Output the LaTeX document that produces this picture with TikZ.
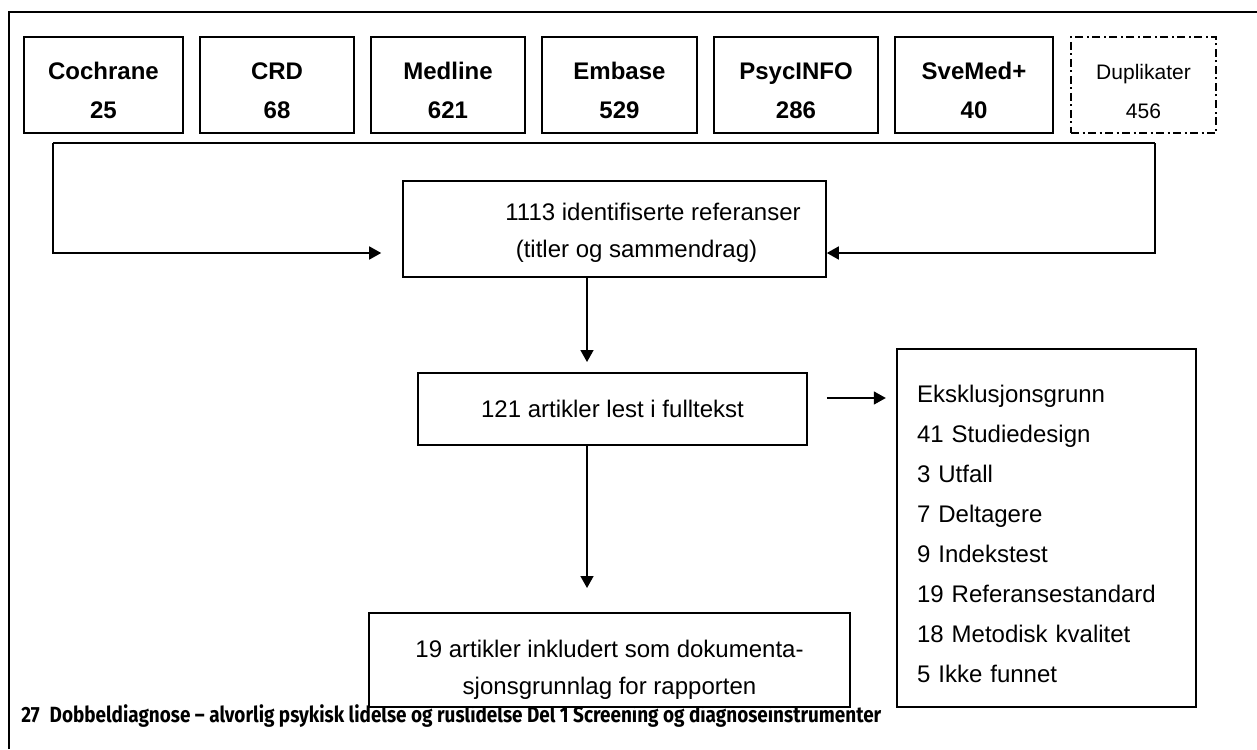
\documentclass[tikz,border=0pt]{standalone}
\usepackage{fontspec}
\setmainfont{Liberation Sans}
\newfontfamily\capfont[FakeStretch=0.86]{Fira Sans}
\usetikzlibrary{arrows.meta}

% database box text: name over count
\newcommand{\db}[2]{\rule{0pt}{14.5pt}#1\\#2}

\tikzset{
  box/.style={draw, line width=0.8pt, fill=white},
  srcbox/.style={box, minimum height=48pt, align=center,
    font=\fontsize{12}{19.5}\selectfont\bfseries},
  dupbox/.style={draw, line width=0.55pt,
    dash pattern=on 4pt off 1.75pt on 1pt off 1.75pt,
    minimum width=72.5pt, minimum height=48pt, align=center,
    font=\fontsize{10.5}{19.5}\selectfont},
  flowbox/.style={box, align=center, font=\fontsize{12}{18.5}\selectfont},
  arr/.style={line width=0.8pt, -{Triangle[length=6pt,width=6.5pt]}},
}

\begin{document}
\begin{tikzpicture}[x=0.5pt,y=-0.5pt]
\useasboundingbox (0,0) rectangle (1257,749);

% Frame
\draw[line width=0.7pt] (9,749) -- (9,12) -- (1257,12);

% Caption (partly covered by the last box)
\node[anchor=base west, inner sep=0pt, font=\capfont\bfseries\fontsize{11}{13}\selectfont] (caption) at (21,722)
  {27\hspace{0.45em}Dobbeldiagnose – alvorlig psykisk lidelse og ruslidelse Del 1 Screening og diagnoseinstrumenter};

% Databases
\node[srcbox, minimum width=79.5pt] (cochrane) at (103.5,85) {\db{Cochrane}{25}};
\node[srcbox, minimum width=77pt] (crd) at (277,85) {\db{CRD}{68}};
\node[srcbox, minimum width=77pt] (medline) at (448,85) {\db{Medline}{621}};
\node[srcbox, minimum width=77.5pt] (embase) at (619.5,85) {\db{Embase}{529}};
\node[srcbox, minimum width=82pt] (psycinfo) at (796,85) {\db{PsycINFO}{286}};
\node[srcbox, minimum width=79pt] (svemed) at (974,85) {\db{SveMed+}{40}};
\node[dupbox] (dup) at (1143.5,85) {\db{Duplikater}{456}};

% Flow
\node[flowbox, minimum width=211.5pt, minimum height=48pt] (ident) at (614.5,229)
  {\hspace*{38.5pt}\rule{0pt}{12.5pt}1113 identifiserte referanser\\\hspace*{22pt}(titler og sammendrag)};
\node[flowbox, minimum width=194.5pt, minimum height=36pt] (full) at (612.5,409)
  {121 artikler lest i fulltekst};
\node[flowbox, minimum width=240.5pt, minimum height=47pt] (incl) at (609.5,660)
  {\rule{0pt}{18pt}19 artikler inkludert som dokumenta-\\sjonsgrunnlag for rapporten};
\node[box, text width=129.5pt, inner xsep=10pt, minimum height=179pt, align=left,
  font=\fontsize{12}{20}\selectfont] (excl) at (1046.5,528)
  {\rule{0pt}{14.8pt}Eksklusjonsgrunn\\41 Studiedesign\\3 Utfall\\7 Deltagere\\9 Indekstest\\19 Referansestandard\\18 Metodisk kvalitet\\5 Ikke funnet};

% Connectors
\coordinate (tl) at (53,143);
\coordinate (tr) at (1155,143);
\draw[line width=0.7pt] (tl) -- (tr);
\draw[arr] (tl) |- ([xshift=-10.5pt,yshift=-12pt]ident.west);
\draw[arr] (tr) |- ([yshift=-12pt]ident.east);

\coordinate (d1) at (587,362);
\coordinate (d2) at (587,588);
\draw[arr] (ident.south -| d1) -- (d1);
\draw[arr] (full.south -| d2) -- (d2);
\draw[arr] ([xshift=9.5pt,yshift=5.5pt]full.east) -- ++(29.5pt,0);

\end{tikzpicture}
\end{document}
